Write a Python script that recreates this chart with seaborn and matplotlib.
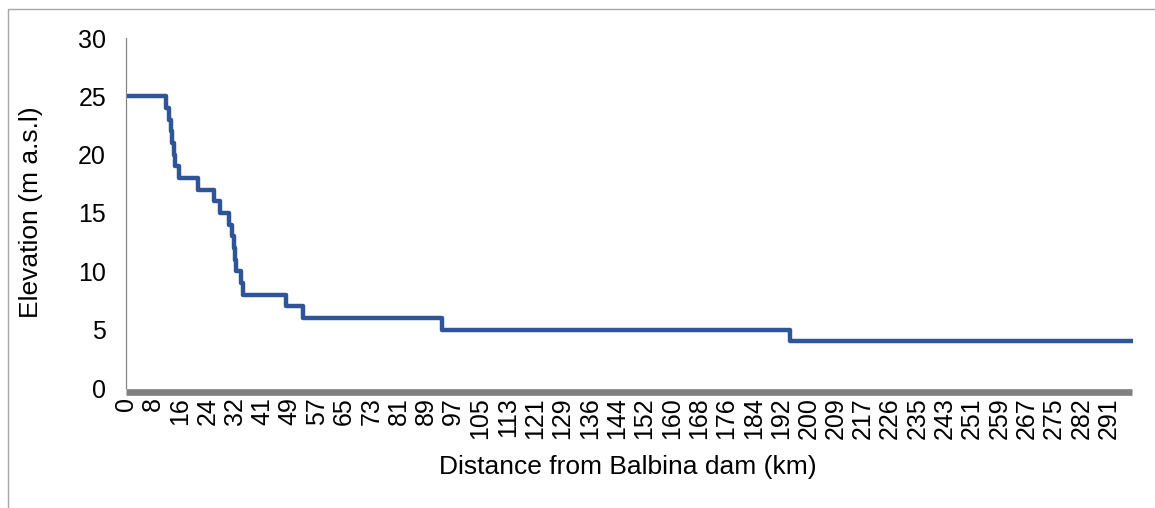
import numpy as np
import pandas as pd
import matplotlib
matplotlib.use("Agg")
import matplotlib.pyplot as plt
from matplotlib.lines import Line2D
import seaborn as sns

# Category labels shown along the distance axis (km)
tick_km = [0, 8, 16, 24, 32, 41, 49, 57, 65, 73, 81, 89, 97, 105, 113, 121, 129,
           136, 144, 152, 160, 168, 176, 184, 192, 200, 209, 217, 226, 235, 243,
           251, 259, 267, 275, 282, 291]

# River profile downstream of the dam: distance where each level begins (km)
step_km = [0, 11.9, 12.7, 13.3, 13.6, 14.2, 14.5, 15.7, 21.2, 25.9, 27.7, 30.3,
           31.2, 31.8, 32.05, 32.4, 34.0, 34.7, 48.0, 53.0, 93.6, 194.5]
step_elev = [25, 24, 23, 22, 21, 20, 19, 18, 17, 16, 15, 14,
             13, 12, 11, 10, 9, 8, 7, 6, 5, 4]
end_km = 299

sns.set_theme(style="white")
plt.rcParams["font.family"] = ["Liberation Sans", "DejaVu Sans"]

W, H = 1155, 508
fig = plt.figure(figsize=(W / 100, H / 100), dpi=100)
ax = fig.add_axes([125.5 / W, 1 - 388 / H, (1133 - 125.5) / W, (388 - 38) / H])


def km_to_slot(km):
    """Position on the category axis: one slot per labelled category."""
    km = np.asarray(km, dtype=float)
    idx = np.arange(len(tick_km))
    pos = np.interp(km, tick_km, idx)
    last_step = tick_km[-1] - tick_km[-2]
    beyond = km > tick_km[-1]
    pos[beyond] = idx[-1] + (km[beyond] - tick_km[-1]) / last_step
    return pos


xs = list(step_km) + [end_km]
ys = list(step_elev) + [step_elev[-1]]
df = pd.DataFrame({"pos": km_to_slot(xs), "elev": ys})

sns.lineplot(data=df, x="pos", y="elev", ax=ax, color="#2f5597", linewidth=3.2,
             drawstyle="steps-post", sort=False, solid_capstyle="round")

ax.set_xlim(0, km_to_slot([end_km])[0])
ax.set_ylim(0, 30)
ax.set_yticks(range(0, 31, 5))
ax.set_xticks(np.arange(len(tick_km)))
ax.set_xticklabels([str(v) for v in tick_km], rotation=90, fontsize=18,
                   color="black", va="top", ha="center")
ax.tick_params(axis="x", length=0, pad=6.5)
ax.tick_params(axis="y", direction="out", length=4.5, width=0.8, color="#868686",
               pad=9.5, labelsize=18, labelcolor="black")
ax.set_xlabel("")
ax.set_ylabel("")

for side in ("top", "right", "bottom"):
    ax.spines[side].set_visible(False)
ax.spines["left"].set_color("#868686")
ax.spines["left"].set_linewidth(0.9)

# Heavy category-axis bar under the plot area
fig.add_artist(Line2D([126 / W, 1132 / W], [1 - 391.5 / H] * 2, transform=fig.transFigure,
                      color="#808080", linewidth=4.8, solid_capstyle="butt"))

fig.text(628 / W, 1 - 467 / H, "Distance from Balbina dam (km)", ha="center", va="center",
         fontsize=19, color="black")
fig.text(31 / W, 1 - 212 / H, "Elevation (m a.s.l)", ha="center", va="center",
         rotation=90, fontsize=19, color="black")

# Chart frame (left and top edges)
fig.add_artist(Line2D([8 / W, 8 / W, 1.0], [0.0, 1 - 9 / H, 1 - 9 / H],
                      transform=fig.transFigure, color="#a6a6a6", linewidth=1.0))

fig.savefig("out.png", dpi=100, facecolor="white")
